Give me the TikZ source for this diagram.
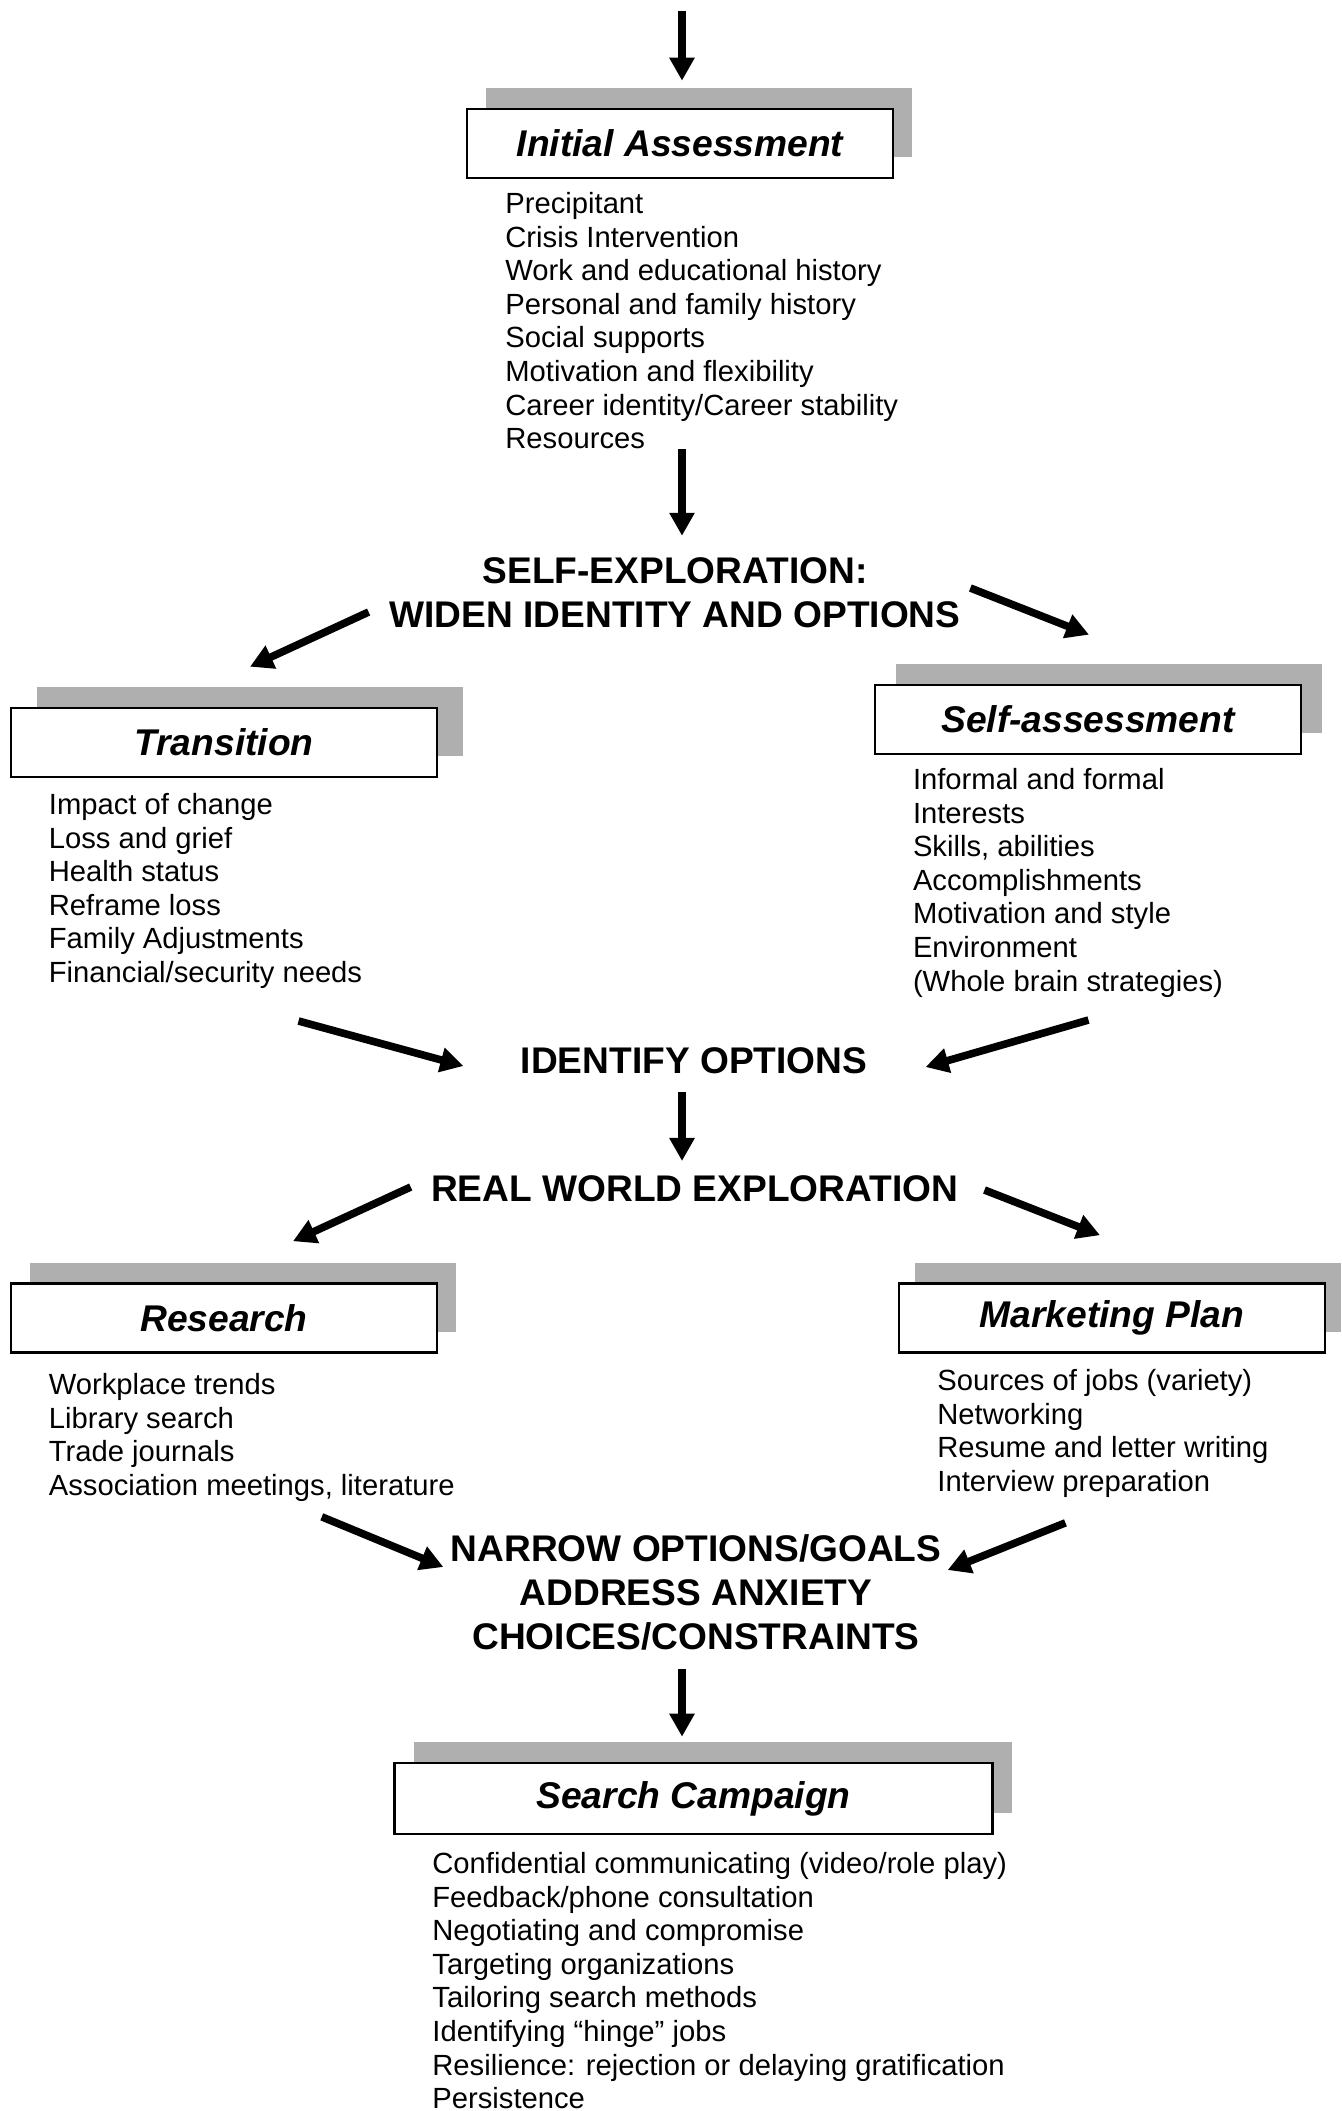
\documentclass[tikz,border=0pt]{standalone}
\usepackage{fontspec}
\setmainfont{Liberation Sans}
\usetikzlibrary{arrows.meta,shadows}
\definecolor{boxshade}{RGB}{175,175,175}

\begin{document}
\begin{tikzpicture}[
    x=0.5pt, y=-0.5pt,
    card/.style={draw, fill=white, line width=1.3pt, minimum width=213pt,
                 minimum height=34.5pt,
                 font=\bfseries\itshape\fontsize{18.6}{22}\selectfont},
    shadowed/.style={drop shadow={shadow xshift=#1, shadow yshift=10.5pt,
                     fill=boxshade, opacity=1}},
    shadowed/.default=9.5pt,
    stage/.style={align=center, inner sep=0pt,
                  font=\bfseries\fontsize{18.55}{22.2}\selectfont},
    itemlist/.style={anchor=north west, align=left, inner sep=0pt,
                     font=\fontsize{14.6}{16.8}\selectfont},
    flow/.style={-{Triangle[length=11.5pt, width=12pt]}, line width=3.8pt},
]
    \useasboundingbox (0,0) rectangle (1342,2111);

    \coordinate (entry) at (682,11);
    \node[card, shadowed] (initial) at (680,143.5) {Initial Assessment};
    \node[itemlist] (initial-list) at (505,192)
        {Precipitant\\Crisis Intervention\\Work and educational history\\
         Personal and family history\\Social supports\\Motivation and flexibility\\
         Career identity/Career stability\\Resources};
    \node[stage] (selfexp) at (675,593) {SELF-EXPLORATION:\\WIDEN IDENTITY AND OPTIONS};

    \node[card, shadowed=13pt] (transition) at (224,742.5) {Transition};
    \node[itemlist] (transition-list) at (48.5,793)
        {Impact of change\\Loss and grief\\Health status\\Reframe loss\\
         Family Adjustments\\Financial/security needs};
    \node[card, shadowed=10.5pt] (selfassess) at (1088,719.5) {Self-assessment};
    \node[itemlist] (selfassess-list) at (912.6,768)
        {Informal and formal\\Interests\\Skills, abilities\\Accomplishments\\
         Motivation and style\\Environment\\(Whole brain strategies)};

    \node[stage] (identify) at (694,1060.7) {IDENTIFY OPTIONS};
    \node[stage] (realworld) at (694.6,1188.5) {REAL WORLD EXPLORATION};

    \node[card, shadowed] (research) at (224,1318) {Research};
    \node[itemlist] (research-list) at (48.5,1373)
        {Workplace trends\\Library search\\Trade journals\\
         Association meetings, literature};
    \node[card, shadowed=8pt] (marketing) at (1112,1318) {Marketing Plan};
    \node[itemlist] (marketing-list) at (937,1369)
        {Sources of jobs (variety)\\Networking\\Resume and letter writing\\
         Interview preparation};

    \node[stage] (narrow) at (696,1592.5)
        {NARROW OPTIONS/GOALS\\ADDRESS ANXIETY\\CHOICES/CONSTRAINTS};
    \node[card, shadowed, minimum width=299pt, minimum height=35.5pt] (search)
        at (693.5,1798.5) {Search Campaign};
    \node[itemlist] (search-list) at (432,1852)
        {Confidential communicating (video/role play)\\Feedback/phone consultation\\
         Negotiating and compromise\\Targeting organizations\\Tailoring search methods\\
         Identifying “hinge” jobs\\Resilience: rejection or delaying gratification\\
         Persistence};

    % arrows
    \draw[flow] (entry) -- ([shift={(2,-27)}]initial.north);
    \draw[flow, shorten >=10.75pt] (initial-list.south -| entry) -- (selfexp.north -| entry);
    \draw[flow] ([shift={(-20.5,19)}]selfexp.west) -- ([shift={(26,-40)}]transition.north);
    \draw[flow] ([shift={(9.5,-5)}]selfexp.east) -- ([shift={(1,-49)}]selfassess.north);
    \draw[flow] ([shift={(93,32)}]transition-list.south) -- ([shift={(-57,5.3)}]identify.west);
    \draw[flow] ([shift={(20.5,22.4)}]selfassess-list.south) -- ([shift={(58,6.3)}]identify.east);
    \draw[flow, shorten <=9pt, shorten >=7pt] (identify.south -| entry) -- (realworld.north -| entry);
    \draw[flow] ([shift={(-20,-1.5)}]realworld.west) -- ([shift={(69,-41)}]research.north);
    \draw[flow] ([shift={(26,1.5)}]realworld.east) -- ([shift={(-12,-47)}]marketing.north);
    \draw[flow] ([shift={(70,15)}]research-list.south) -- ([shift={(-7,-25.5)}]narrow.west);
    \draw[flow] ([shift={(-37.5,25)}]marketing-list.south) -- ([shift={(6,-22.5)}]narrow.east);
    \draw[flow, shorten <=9pt, shorten >=12.5pt] (narrow.south -| entry) -- (search.north -| entry);
\end{tikzpicture}
\end{document}
